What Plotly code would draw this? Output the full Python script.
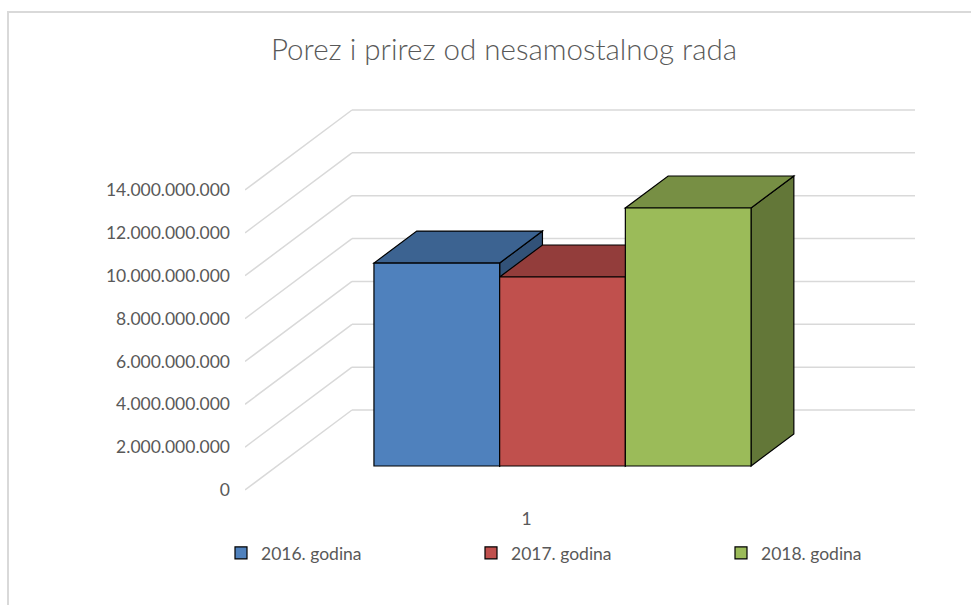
import plotly.graph_objects as go

# ---------------- data ----------------
categories = ["1"]
series_names = ["2016. godina", "2017. godina", "2018. godina"]
values = [9.47e9, 8.82e9, 12.04e9]
tick_values = [0, 2e9, 4e9, 6e9, 8e9, 10e9, 12e9, 14e9]
title_text = "Porez i prirez od nesamostalnog rada"

# ---------------- styles ----------------
front_colors = ["#4F81BD", "#C0504D", "#9BBB59"]
TOP_SHADE, SIDE_SHADE = 0.77, 0.64
TEXT_COLOR = "#595959"
GRID_COLOR = "#D9D9D9"
FONT = "Lato"

# ---------------- geometry (pixel layout of the 3D look) ----------------
W, H = 971, 605
L_PX, R_PX, T_PX, B_PX = 245, 915, 100, 500
FLOOR_W_PX = 563            # width of one category on the front plane
ZERO_PX = 490               # y pixel of value 0 on the front plane
PX_PER_VAL = 300 / 14e9     # vertical pixels per value unit
WALL_DX_PX, WALL_DY_PX = 107, 80
BAR_FRONT_DEPTH, BAR_DEPTH = 0.3, 0.4
BAR_W_PX = 125.7
BAR_GROUP_CENTER_PX = 562.5

x_range = [-0.5, -0.5 + (R_PX - L_PX) / FLOOR_W_PX]
y_range = [-(B_PX - ZERO_PX) / PX_PER_VAL, (ZERO_PX - T_PX) / PX_PER_VAL]
dxu = WALL_DX_PX / FLOOR_W_PX
dyv = WALL_DY_PX / PX_PER_VAL
bw = BAR_W_PX / FLOOR_W_PX


def shade(hex_color, f):
    h = hex_color.lstrip("#")
    r, g, b = (int(h[i:i + 2], 16) for i in (0, 2, 4))
    return "#%02X%02X%02X" % (int(r * f), int(g * f), int(b * f))


def path(points):
    return "M " + " L ".join(f"{x},{y}" for x, y in points) + " Z"


fig = go.Figure()
shapes = []

# back wall + side wall gridlines
for v in tick_values:
    shapes.append(dict(type="line", xref="x", yref="y", layer="below",
                       x0=x_range[0], y0=v, x1=x_range[0] + dxu, y1=v + dyv,
                       line=dict(color=GRID_COLOR, width=1.5)))
    shapes.append(dict(type="line", xref="x", yref="y", layer="below",
                       x0=x_range[0] + dxu, y0=v + dyv, x1=x_range[1], y1=v + dyv,
                       line=dict(color=GRID_COLOR, width=1.5)))

base = BAR_FRONT_DEPTH * dyv
shift = (BAR_GROUP_CENTER_PX - L_PX) / FLOOR_W_PX - 0.5
ddx = BAR_DEPTH * dxu
ddy = BAR_DEPTH * dyv
n = len(values)

for i, (name, v, col) in enumerate(zip(series_names, values, front_colors)):
    off = shift - n * bw / 2 + i * bw
    fig.add_trace(go.Bar(
        x=[0], y=[v], base=[base], width=[bw], offset=[off], name=name,
        marker=dict(color=col, line=dict(color="#000000", width=1.2)),
        hovertemplate=name + ": %{y:,.0f}<extra></extra>",
    ))
    x0, x1 = off, off + bw
    top = base + v
    # side face
    shapes.append(dict(type="path", xref="x", yref="y", layer="below",
                       path=path([(x1, base), (x1, top), (x1 + ddx, top + ddy), (x1 + ddx, base + ddy)]),
                       fillcolor=shade(col, SIDE_SHADE), line=dict(color="#000000", width=1.2)))
    # top face
    shapes.append(dict(type="path", xref="x", yref="y", layer="below",
                       path=path([(x0, top), (x1, top), (x1 + ddx, top + ddy), (x0 + ddx, top + ddy)]),
                       fillcolor=shade(col, TOP_SHADE), line=dict(color="#000000", width=1.2)))

# chart border
pw, ph = R_PX - L_PX, B_PX - T_PX
shapes.append(dict(type="rect", xref="paper", yref="paper", layer="below",
                   x0=(8 - L_PX) / pw, x1=(W + 10 - L_PX) / pw,
                   y0=(B_PX - (H + 10)) / ph, y1=(B_PX - 12) / ph,
                   line=dict(color=GRID_COLOR, width=2), fillcolor="rgba(0,0,0,0)"))

fig.update_layout(
    width=W, height=H,
    margin=dict(l=L_PX, r=W - R_PX, t=T_PX, b=H - B_PX),
    paper_bgcolor="white", plot_bgcolor="white",
    separators=",.",
    font=dict(family=FONT, color=TEXT_COLOR, size=17.5),
    title=dict(text=title_text, xref="container", yref="container",
               x=504 / W, y=1 - 50 / H, xanchor="center", yanchor="middle",
               font=dict(family=FONT, size=29.5, color=TEXT_COLOR, weight=300)),
    barmode="overlay",
    showlegend=True,
    legend=dict(orientation="h", xref="paper", yref="paper",
                x=(223 - L_PX) / pw, y=(B_PX - 553) / ph,
                xanchor="left", yanchor="middle",
                entrywidth=205, entrywidthmode="pixels",
                font=dict(family=FONT, size=17.5, color=TEXT_COLOR),
                bgcolor="rgba(0,0,0,0)"),
    shapes=shapes,
    xaxis=dict(range=x_range, tickvals=[0], ticktext=categories,
               showgrid=False, zeroline=False, showline=False, ticks="",
               ticklabelstandoff=6, fixedrange=True),
    yaxis=dict(range=y_range, tickvals=tick_values, tickformat=",d",
               showgrid=False, zeroline=False, showline=False, ticks="",
               ticklabelstandoff=14, fixedrange=True),
)

fig.write_html("out.html", config={"displayModeBar": False},
               post_script="document.body.style.margin='0';")
